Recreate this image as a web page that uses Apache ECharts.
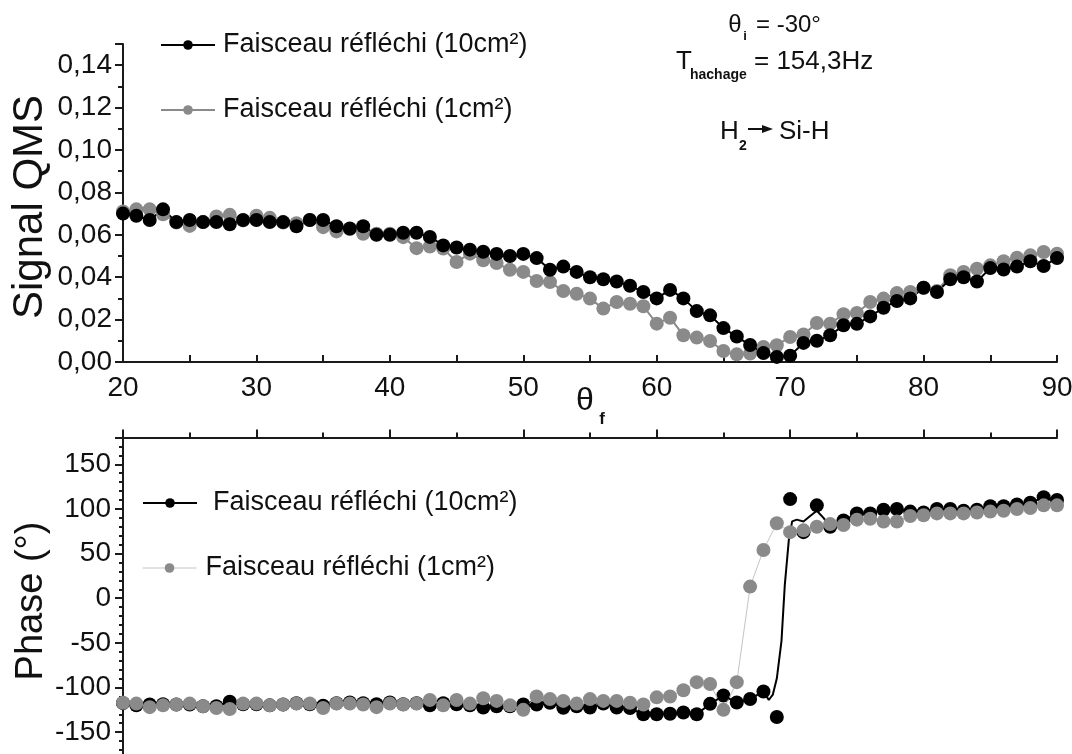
<!DOCTYPE html>
<html>
<head>
<meta charset="utf-8">
<script src="https://cdn.jsdelivr.net/npm/echarts@6/dist/echarts.min.js"></script>
<style>
html,body{margin:0;padding:0;background:#fff;}
#chart{width:1072px;height:754px;}
</style>
</head>
<body>
<div id="chart"></div>
<script>
// ---------- DATA ----------
const thetaF = [20,21,22,23,24,25,26,27,28,29,30,31,32,33,34,35,36,37,38,39,40,41,42,43,44,45,46,47,48,49,50,51,52,53,54,55,56,57,58,59,60,61,62,63,64,65,66,67,68,69,70,71,72,73,74,75,76,77,78,79,80,81,82,83,84,85,86,87,88,89,90];

// Signal QMS, top panel
const signal10 = [0.070,0.069,0.067,0.072,0.066,0.067,0.066,0.066,0.065,0.067,0.067,0.066,0.066,0.064,0.067,0.067,0.064,0.063,0.064,0.060,
  0.060,0.061,0.061,0.059,0.055,0.054,0.053,0.052,0.051,0.050,0.051,0.049,0.0435,0.045,0.0425,0.040,0.039,0.038,0.036,0.033,
  0.030,0.034,0.030,0.024,0.022,0.016,0.012,0.008,0.0042,0.0024,0.003,0.009,0.010,0.0126,0.0173,0.018,0.0215,0.0256,0.0288,0.030,
  0.035,0.033,0.039,0.040,0.038,0.0443,0.0436,0.045,0.0475,0.0453,0.049];
const signal1 = [0.071,0.072,0.072,0.0697,0.0658,0.0642,0.066,0.0686,0.0694,0.0668,0.069,0.068,0.0658,0.0655,0.067,0.0636,0.0616,0.0627,0.0605,0.0605,
  0.0605,0.0589,0.0537,0.0545,0.0535,0.0472,0.0511,0.048,0.0467,0.0435,0.0425,0.0382,0.0377,0.0335,0.0322,0.0299,0.0252,0.0283,0.0275,0.0263,
  0.0181,0.0209,0.0126,0.0115,0.0099,0.0052,0.0036,0.004,0.0071,0.0079,0.0118,0.013,0.0184,0.0181,0.0225,0.0231,0.0283,0.0299,0.0325,0.033,
  0.035,0.0335,0.0409,0.0425,0.044,0.0456,0.0475,0.0492,0.0503,0.0519,0.0511];

// Phase, bottom panel
const phase10 = [-117.5,-120,-119,-118.7,-119,-119,-121,-121,-116,-118.7,-118.7,-120,-119,-117.5,-118.7,-120.5,-117.5,-116.8,-117.5,-118.7,
  -116.8,-118.7,-117.5,-120,-117.5,-118.7,-120,-122.4,-121,-121,-119,-119,-117,-122.7,-121,-122.5,-118,-122.5,-123,-130,
  -130,-129.4,-128,-130,-118.3,-109,-116.8,-112.8,-104.5,-133,111,74,104,80,87,95,95,99,100,97,
  96,100,100,98,99,103,103,105,107,113,110];
const phase1 = [-117,-118,-122,-120,-119,-118,-121,-123,-124,-118,-118,-120,-119,-118,-118,-123,-118,-118,-119,-122,
  -118,-119,-118,-114,-120,-114,-118,-112,-115,-120,-125,-110,-113,-115,-118,-113,-115,-115,-117,-119,
  -111,-110,-103,-94,-96,-125,-94,13,54,84,74,76,80,83,82,88,89,86,86,92,
  93,95,95,95,96,97,98,100,101,104,104];
// Black trace in the bottom panel across the jump (between the markers at 68 and 74)
const jumpX = [68.4,68.7,69.0,69.35,69.6,69.9,70.15,70.5,71.0,71.5,72.0,72.5,73.0];
const jumpY = [-114,-108,-90,-48,15,65,86,88,86,92,98,90,80];

const xTicks = {min:20, max:90};
const nameA = 'Faisceau réfléchi (10cm²)';
const nameB = 'Faisceau réfléchi (1cm²)';

// ---------- BUILD ----------
const FONT = '"Liberation Sans", Arial, Helvetica, sans-serif';
const INK = '#111';
const GRAY = '#8a8a8a';
const pairs = (xs, ys) => xs.map((x, i) => [x, ys[i]]);

const lineData = [];
thetaF.forEach((x, i) => { if (x <= 68) lineData.push([x, phase10[i]]); });
jumpX.forEach((x, i) => lineData.push([x, jumpY[i]]));
thetaF.forEach((x, i) => { if (x >= 74) lineData.push([x, phase10[i]]); });

const axisLineStyle = {color: '#1a1a1a', width: 2};

function legendItem(name, left, cy, lineStyle, itemStyle, gap) {
  return {
    show: true, left: left, top: cy - 15, padding: 0, orient: 'horizontal',
    itemWidth: 54, itemHeight: 12, selectedMode: false,
    data: [{name: name, lineStyle: lineStyle, itemStyle: itemStyle}],
    textStyle: {fontFamily: FONT, fontSize: 27, color: INK, lineHeight: 30, padding: [0, 0, 0, gap]}
  };
}

const chart = echarts.init(document.getElementById('chart'), null, {renderer: 'canvas'});

const option = {
  animation: false,
  backgroundColor: '#fff',
  grid: [
    {left: 123, right: 15, top: 44, height: 318, outerBoundsMode: 'none', containLabel: false},
    {left: 123, right: 15, top: 437.5, height: 339.3, outerBoundsMode: 'none', containLabel: false}
  ],
  xAxis: [
    {
      gridIndex: 0, type: 'value', min: xTicks.min, max: xTicks.max, interval: 5, position: 'bottom',
      axisLine: {show: true, onZero: false, lineStyle: axisLineStyle},
      axisTick: {show: true, inside: true, length: 7, lineStyle: axisLineStyle},
      axisLabel: {fontFamily: FONT, fontSize: 28, color: INK, margin: 12,
        formatter: v => (v % 10 === 0 ? String(v) : '')},
      splitLine: {show: false}
    },
    {
      gridIndex: 1, type: 'value', min: xTicks.min, max: xTicks.max, interval: 10, position: 'top',
      axisLine: {show: true, onZero: false, lineStyle: axisLineStyle},
      axisTick: {show: true, inside: false, length: 8, lineStyle: axisLineStyle},
      minorTick: {show: true, splitNumber: 2, length: 5, lineStyle: axisLineStyle},
      axisLabel: {show: false},
      splitLine: {show: false}
    }
  ],
  yAxis: [
    {
      gridIndex: 0, type: 'value', min: 0, max: 0.15, interval: 0.02,
      axisLine: {show: true, onZero: false, lineStyle: axisLineStyle},
      axisTick: {show: true, inside: false, length: 8, lineStyle: axisLineStyle},
      minorTick: {show: true, splitNumber: 2, length: 5, lineStyle: axisLineStyle},
      axisLabel: {fontFamily: FONT, fontSize: 28, color: INK, margin: 11,
        formatter: v => (Math.round(v * 100) % 2 === 0 ? v.toFixed(2).replace('.', ',') : '')},
      splitLine: {show: false}
    },
    {
      gridIndex: 1, type: 'value', min: -200, max: 180, interval: 50,
      axisLine: {show: true, onZero: false, lineStyle: axisLineStyle},
      axisTick: {show: true, inside: false, length: 8, lineStyle: axisLineStyle},
      minorTick: {show: true, splitNumber: 5, length: 4, lineStyle: axisLineStyle},
      axisLabel: {fontFamily: FONT, fontSize: 28, color: INK, margin: 12,
        formatter: v => (v % 50 === 0 ? String(v) : '')},
      splitLine: {show: false}
    }
  ],
  legend: [
    legendItem(nameA, 160, 45, {color: '#000', width: 2}, {color: '#000'}, 3),
    legendItem(nameB, 160, 110, {color: GRAY, width: 2}, {color: GRAY}, 3),
    legendItem(nameA, 142, 503, {color: '#000', width: 2}, {color: '#000'}, 11),
    legendItem(nameB, 142, 568, {color: '#c4c4c4', width: 1}, {color: GRAY}, 4)
  ],
  series: [
    {
      name: nameB, type: 'line', xAxisIndex: 0, yAxisIndex: 0, data: pairs(thetaF, signal1),
      symbol: 'circle', symbolSize: 14, showSymbol: true, silent: true,
      itemStyle: {color: GRAY}, lineStyle: {color: GRAY, width: 2}, emphasis: {disabled: true}
    },
    {
      name: nameA, type: 'line', xAxisIndex: 0, yAxisIndex: 0, data: pairs(thetaF, signal10),
      symbol: 'circle', symbolSize: 14, showSymbol: true, silent: true,
      itemStyle: {color: '#000'}, lineStyle: {color: '#000', width: 2}, emphasis: {disabled: true}
    },
    {
      name: nameB, type: 'line', xAxisIndex: 1, yAxisIndex: 1, data: pairs(thetaF, phase1),
      symbol: 'circle', symbolSize: 14, showSymbol: true, silent: true,
      itemStyle: {color: GRAY}, lineStyle: {color: '#c4c4c4', width: 1}, emphasis: {disabled: true}
    },
    {
      name: 'trace10', type: 'line', xAxisIndex: 1, yAxisIndex: 1, data: lineData,
      showSymbol: false, silent: true, lineStyle: {color: '#000', width: 2}, emphasis: {disabled: true}
    },
    {
      name: nameA, type: 'scatter', xAxisIndex: 1, yAxisIndex: 1, data: pairs(thetaF, phase10),
      symbol: 'circle', symbolSize: 14, silent: true,
      itemStyle: {color: '#000', opacity: 1}, emphasis: {disabled: true}
    }
  ],
  graphic: [
    {type: 'text', x: 30, y: 207, rotation: Math.PI / 2,
      style: {text: 'Signal QMS', font: '42px ' + FONT, fill: INK, align: 'center', verticalAlign: 'middle'}},
    {type: 'text', x: 32, y: 601, rotation: Math.PI / 2,
      style: {text: 'Phase (°)', font: '38px ' + FONT, fill: INK, align: 'center', verticalAlign: 'middle'}},
    {type: 'text', x: 585, y: 401,
      style: {text: 'θ', font: '32px ' + FONT, fill: INK, align: 'center', verticalAlign: 'middle'}},
    {type: 'text', x: 602, y: 419,
      style: {text: 'f', font: 'bold 17px ' + FONT, fill: INK, align: 'center', verticalAlign: 'middle'}},
    {type: 'text', x: 735, y: 25,
      style: {text: 'θ', font: '24px ' + FONT, fill: INK, align: 'center', verticalAlign: 'middle'}},
    {type: 'text', x: 745, y: 36,
      style: {text: 'i', font: 'bold 13px ' + FONT, fill: INK, align: 'center', verticalAlign: 'middle'}},
    {type: 'text', x: 756, y: 25,
      style: {text: '= -30°', font: '24px ' + FONT, fill: INK, align: 'left', verticalAlign: 'middle'}},
    {type: 'text', x: 676, y: 62,
      style: {text: 'T', font: '26px ' + FONT, fill: INK, align: 'left', verticalAlign: 'middle'}},
    {type: 'text', x: 690, y: 75,
      style: {text: 'hachage', font: 'bold 14px ' + FONT, fill: INK, align: 'left', verticalAlign: 'middle'}},
    {type: 'text', x: 754, y: 62,
      style: {text: '= 154,3Hz', font: '26px ' + FONT, fill: INK, align: 'left', verticalAlign: 'middle'}},
    {type: 'text', x: 720, y: 132,
      style: {text: 'H', font: '26px ' + FONT, fill: INK, align: 'left', verticalAlign: 'middle'}},
    {type: 'text', x: 739, y: 146,
      style: {text: '2', font: 'bold 14px ' + FONT, fill: INK, align: 'left', verticalAlign: 'middle'}},
    {type: 'line', shape: {x1: 748, y1: 129, x2: 764, y2: 129}, style: {stroke: INK, lineWidth: 2}},
    {type: 'polygon', shape: {points: [[762, 125], [773, 129], [762, 133]]}, style: {fill: INK}},
    {type: 'text', x: 779, y: 132,
      style: {text: 'Si-H', font: '26px ' + FONT, fill: INK, align: 'left', verticalAlign: 'middle'}}
  ]
};
chart.setOption(option);
</script>
</body>
</html>
